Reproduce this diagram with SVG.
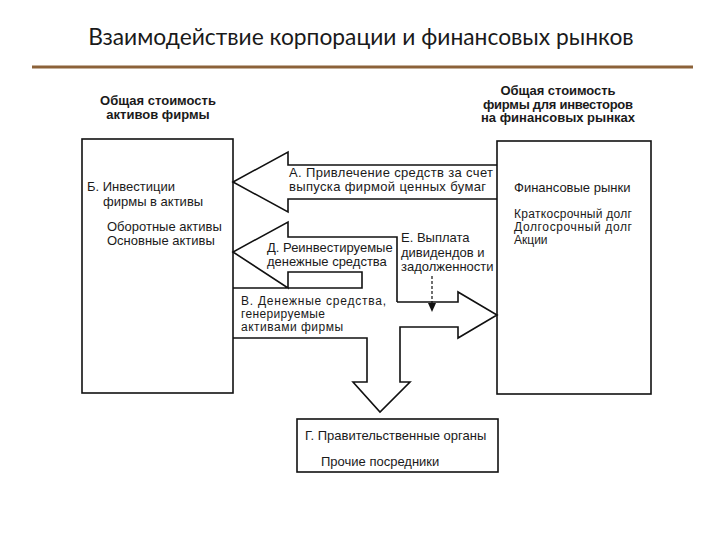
<svg xmlns="http://www.w3.org/2000/svg" width="720" height="540" viewBox="0 0 720 540">
<style>
.t{font-family:"Liberation Sans",Arial,sans-serif;font-size:13px;fill:#1a1a1a}
.s{font-size:12px}
.xs{font-size:11.5px}
.h{font-family:"Liberation Sans",Arial,sans-serif;font-size:13px;font-weight:bold;fill:#1a1a1a;text-anchor:middle}
.box{fill:#fff;stroke:#111;stroke-width:1.6}
.ln{fill:none;stroke:#111;stroke-width:1.6;stroke-linejoin:miter}
</style>
<rect width="720" height="540" fill="#fff"/>
<g id="title">
<text x="361" y="45" text-anchor="middle" style="font-family:Lato,'Open Sans',sans-serif;font-size:22.8px;fill:#1a1a1a">Взаимодействие корпорации и финансовых рынков</text>
<line x1="32" y1="67" x2="693" y2="67" stroke="#8c6239" stroke-width="3"/>
</g>
<g id="assets">
<text class="h" x="158" y="105">Общая стоимость</text>
<text class="h" x="158" y="119">активов фирмы</text>
<rect class="box" x="82" y="139" width="151" height="254"/>
<text class="t" x="87" y="191">Б. Инвестиции</text>
<text class="t" x="103" y="206">фирмы в активы</text>
<text class="t" x="107" y="231">Оборотные активы</text>
<text class="t" x="107" y="245">Основные активы</text>
</g>
<g id="markets">
<text class="h xs" x="558" y="95" textLength="115" lengthAdjust="spacing">Общая стоимость</text>
<text class="h xs" x="558" y="108.5" textLength="150" lengthAdjust="spacing">фирмы для инвесторов</text>
<text class="h xs" x="558" y="122" textLength="154" lengthAdjust="spacing">на финансовых рынках</text>
<rect class="box" x="497" y="141" width="154" height="253"/>
<text class="t" x="514" y="192">Финансовые рынки</text>
<text class="t s" x="514" y="218" textLength="118" lengthAdjust="spacing">Краткосрочный долг</text>
<text class="t s" x="514" y="231" textLength="118" lengthAdjust="spacing">Долгосрочный долг</text>
<text class="t s" x="514" y="244">Акции</text>
</g>
<g id="government">
<rect class="box" x="297" y="419" width="201" height="53"/>
<text class="t" x="305" y="440">Г. Правительственные органы</text>
<text class="t" x="321" y="466">Прочие посредники</text>
</g>
<g id="connectors">
<path class="ln" d="M497,165 H288 V152 L233,182 L288,212 V199 H497"/>
<path class="ln" d="M397,302 V237 H288 V222 L233,252 L288,288 V272 H362 V288 H233"/>
<path class="ln" d="M397,302 H458 V292 L497,315 L458,338 V327 H400 V382 H410 L380,412 L353,382 H367 V338 H233"/>
<line x1="432" y1="276" x2="432" y2="304" stroke="#111" stroke-width="1.2" stroke-dasharray="3,2"/>
<polygon points="428,303 436,303 432,312" fill="#111"/>
</g>
<g id="labels">
<text class="t" x="289" y="177" textLength="204" lengthAdjust="spacing">А. Привлечение средств за счет</text>
<text class="t" x="289" y="191" textLength="197" lengthAdjust="spacing">выпуска фирмой ценных бумаг</text>
<text class="t" x="267" y="252">Д. Реинвестируемые</text>
<text class="t" x="267" y="266">денежные средства</text>
<text class="t" x="401" y="242">Е. Выплата</text>
<text class="t" x="401" y="257">дивидендов и</text>
<text class="t" x="401" y="271">задолженности</text>
<text class="t s" x="241" y="305" textLength="145" lengthAdjust="spacing">В. Денежные средства,</text>
<text class="t s" x="241" y="318" textLength="84" lengthAdjust="spacing">генерируемые</text>
<text class="t s" x="241" y="331" textLength="102" lengthAdjust="spacing">активами фирмы</text>
</g>
</svg>
